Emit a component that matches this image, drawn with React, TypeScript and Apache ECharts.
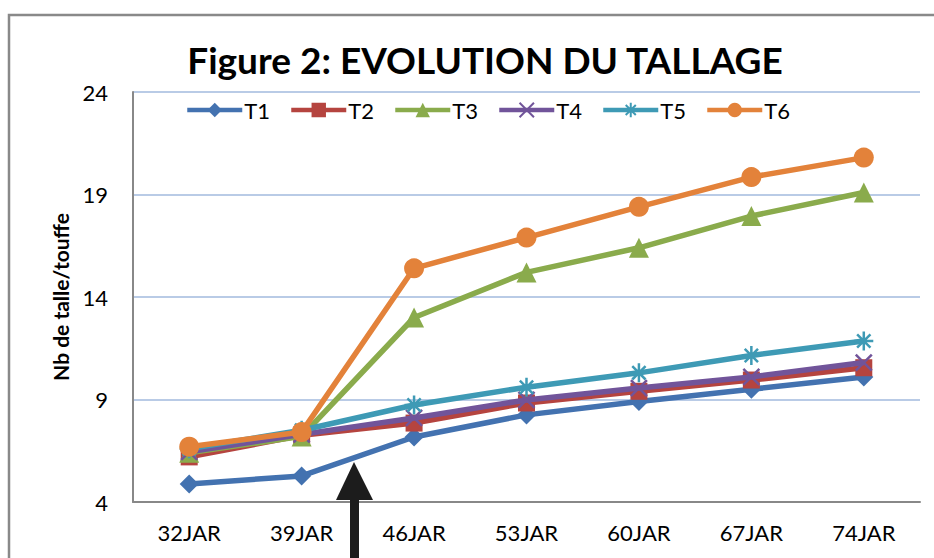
import React, { useEffect, useRef } from "react";
import * as echarts from "echarts";

const categories = ["32JAR", "39JAR", "46JAR", "53JAR", "60JAR", "67JAR", "74JAR"];
const seriesNames = ["T1", "T2", "T3", "T4", "T5", "T6"];
const t1 = [4.88, 5.27, 7.17, 8.25, 8.9, 9.5, 10.1];
const t2 = [6.2, 7.25, 7.85, 8.83, 9.4, 9.95, 10.55];
const t3 = [6.4, 7.2, 13.0, 15.2, 16.4, 17.95, 19.1];
const t4 = [6.45, 7.3, 8.1, 8.98, 9.56, 10.1, 10.8];
const t5 = [6.6, 7.5, 8.73, 9.6, 10.3, 11.15, 11.85];
const t6 = [6.7, 7.41, 15.4, 16.9, 18.4, 19.85, 20.8];
const yTicks = { min: 4, max: 24, interval: 5 };

const colors = ["#4372B0", "#B5443F", "#8AAB4C", "#71549A", "#3E9AB5", "#E3823A"];
const FONT = "Lato";

export default function App() {
  const ref = useRef<HTMLDivElement>(null);
  useEffect(() => {
    if (!ref.current) return;
    const chart = echarts.init(ref.current, null, { renderer: "svg" });
    const values = [t1, t2, t3, t4, t5, t6];
    const symbols = [
      "diamond",
      "rect",
      "triangle",
      "path://M0,0L10,10M10,0L0,10",
      "path://M5,0L5,10M0,5L10,5M1.5,1.5L8.5,8.5M8.5,1.5L1.5,8.5",
      "circle",
    ];
    const sizes = [19, 17, 20, 16, 19, 20];
    const series = values.map((d, i) => ({
      name: seriesNames[i],
      type: "line",
      data: d,
      symbol: symbols[i],
      symbolSize: sizes[i],
      showAllSymbol: true,
      lineStyle: { width: 5.5, color: colors[i] },
      itemStyle:
        i === 3 || i === 4
          ? { color: "none", borderColor: colors[i], borderWidth: 2.5 }
          : { color: colors[i] },
      color: colors[i],
      z: 2 + i,
    }));
    chart.setOption({
      animation: false,
      textStyle: { fontFamily: FONT },
      title: {
        text: "Figure 2: EVOLUTION DU TALLAGE",
        left: 480,
        textAlign: "center",
        top: 36,
        textStyle: { fontFamily: FONT, fontSize: 37, fontWeight: "bold", color: "#000" },
      },
      legend: {
        top: 94,
        left: 180,
        itemWidth: 55,
        itemHeight: 18,
        itemGap: 19,
        lineStyle: { width: 4.5 },
        textStyle: { fontFamily: FONT, fontSize: 22, color: "#000", padding: [0, 0, 0, -3] },
        data: seriesNames,
      },
      grid: { left: 133, right: 14, top: 92, bottom: 56, containLabel: false },
      xAxis: {
        type: "category",
        data: categories,
        boundaryGap: true,
        axisLine: { show: true, lineStyle: { color: "#888888", width: 2 } },
        axisTick: { show: false },
        axisLabel: { fontFamily: FONT, fontSize: 22, color: "#000", margin: 19 },
        splitLine: { show: false },
      },
      yAxis: {
        type: "value",
        min: yTicks.min,
        max: yTicks.max,
        interval: yTicks.interval,
        name: "Nb de talle/touffe",
        nameLocation: "middle",
        nameRotate: 90,
        nameGap: 62,
        nameTextStyle: { fontFamily: FONT, fontSize: 21, fontWeight: "bold", color: "#000" },
        axisLine: { show: true, lineStyle: { color: "#888888", width: 2 } },
        axisTick: { show: false },
        axisLabel: { fontFamily: FONT, fontSize: 22, color: "#000", margin: 25 },
        splitLine: { show: true, lineStyle: { color: "#B9CBE6", width: 2 } },
      },
      series,
      graphic: [
        {
          type: "rect",
          shape: { x: 9, y: 15, width: 960, height: 600 },
          style: { fill: "none", stroke: "#898989", lineWidth: 2.5 },
          z: 100,
        },
        {
          type: "polygon",
          shape: { points: [[354, 462], [336, 500], [373, 500]] },
          style: { fill: "#1c1c1c" },
          z: 100,
        },
        {
          type: "rect",
          shape: { x: 350, y: 495, width: 9, height: 70 },
          style: { fill: "#1c1c1c" },
          z: 100,
        },
      ],
    });
    return () => chart.dispose();
  }, []);
  return (
    <div
      ref={ref}
      style={{ position: "fixed", left: 0, top: 0, width: 934, height: 558, background: "#fff" }}
    />
  );
}
